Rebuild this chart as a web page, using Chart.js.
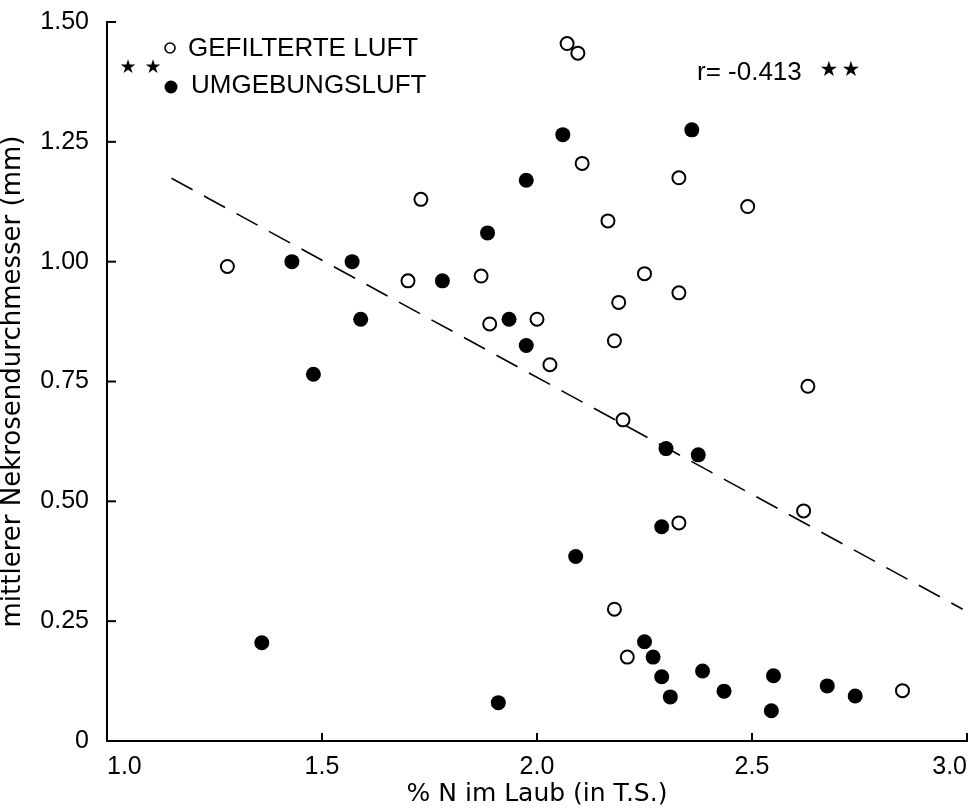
<!DOCTYPE html>
<html><head><meta charset="utf-8">
<script src="https://cdn.jsdelivr.net/npm/chart.js@4"></script>
<style>html,body{margin:0;padding:0;background:#fff}#wrap{width:976px;height:811px}</style>
</head><body><div id="wrap"><canvas id="c" width="976" height="811"></canvas></div>
<script>
// ---- data ----
const seriesNames = ["GEFILTERTE LUFT", "UMGEBUNGSLUFT"];
const filteredX = [1.28, 1.73, 1.70, 1.87, 1.89, 2.00, 2.03, 2.07, 2.095, 2.105, 2.165, 2.25, 2.19, 2.18, 2.33, 2.33, 2.49, 2.63, 2.20, 2.33, 2.62, 2.18, 2.21, 2.85];
const filteredY = [0.99, 1.13, 0.96, 0.97, 0.87, 0.88, 0.785, 1.455, 1.435, 1.205, 1.085, 0.975, 0.915, 0.835, 1.175, 0.935, 1.115, 0.74, 0.67, 0.455, 0.48, 0.275, 0.175, 0.105];
const ambientX = [1.36, 1.43, 1.48, 1.57, 1.59, 1.78, 1.885, 1.935, 1.975, 1.975, 2.06, 2.09, 1.91, 2.36, 2.30, 2.375, 2.29, 2.25, 2.27, 2.29, 2.31, 2.385, 2.435, 2.55, 2.545, 2.675, 2.74];
const ambientY = [0.205, 1.00, 0.765, 1.00, 0.88, 0.96, 1.06, 0.88, 1.17, 0.825, 1.265, 0.385, 0.08, 1.275, 0.61, 0.597, 0.447, 0.207, 0.175, 0.134, 0.092, 0.146, 0.104, 0.136, 0.063, 0.115, 0.094];
const trendX = [1.15, 2.99];
const trendY = [1.174, 0.275];
const xTickLabels = ["1.0", "1.5", "2.0", "2.5", "3.0"];
const yTickLabels = ["0", "0.25", "0.50", "0.75", "1.00", "1.25", "1.50"];
const xTitle = "% N im Laub (in T.S.)";
const yTitle = "mittlerer Nekrosendurchmesser (mm)";
const corrText = "r= -0.413";
const starText = "\u2605";

const FONT = "'Liberation Sans', Arial, sans-serif";
const TFONT = "'DejaVu Sans', 'Liberation Sans', sans-serif";
const toPts = (xs, ys) => xs.map((x, i) => ({x: x, y: ys[i]}));

const decor = {
  id: 'decor',
  afterDraw(chart) {
    const {ctx, chartArea: a, scales: {x, y}} = chart;
    ctx.save();
    ctx.strokeStyle = '#000';
    ctx.lineWidth = 2;
    // inward tick marks
    x.ticks.forEach(t => {
      if (t.value === x.min) return;
      const px = x.getPixelForValue(t.value);
      ctx.beginPath(); ctx.moveTo(px, a.bottom); ctx.lineTo(px, a.bottom - 8); ctx.stroke();
    });
    y.ticks.forEach(t => {
      if (t.value === y.min) return;
      const py = y.getPixelForValue(t.value);
      ctx.beginPath(); ctx.moveTo(a.left, py); ctx.lineTo(a.left + 9, py); ctx.stroke();
    });
    // legend
    const lx = a.left + 63;
    ctx.fillStyle = '#000';
    ctx.lineWidth = 1.6;
    ctx.beginPath(); ctx.arc(lx, a.top + 26, 5, 0, Math.PI * 2); ctx.stroke();
    ctx.beginPath(); ctx.arc(lx + 1, a.top + 65, 6.5, 0, Math.PI * 2); ctx.fill();
    ctx.font = "26px " + FONT;
    ctx.textAlign = 'left';
    ctx.textBaseline = 'middle';
    ctx.fillText(seriesNames[0], lx + 18, a.top + 27);
    ctx.fillText(seriesNames[1], lx + 21, a.top + 64);
    // stars next to legend
    ctx.font = "19px 'DejaVu Sans', sans-serif";
    ctx.textAlign = 'center';
    ctx.fillText(starText, a.left + 21, a.top + 46);
    ctx.fillText(starText, a.left + 46, a.top + 46);
    // correlation text
    ctx.font = "26px " + FONT;
    ctx.textAlign = 'left';
    ctx.fillText(corrText, a.left + 590, a.top + 51);
    ctx.font = "21px 'DejaVu Sans', sans-serif";
    ctx.textAlign = 'center';
    ctx.fillText(starText, a.left + 722, a.top + 49);
    ctx.fillText(starText, a.left + 744, a.top + 49);
    ctx.restore();
  }
};

new Chart(document.getElementById('c'), {
  type: 'scatter',
  data: {
    datasets: [
      {
        label: 'Trend',
        type: 'line',
        data: toPts(trendX, trendY),
        borderColor: '#000',
        borderWidth: 1.6,
        borderDash: [24, 13],
        pointRadius: 0,
        fill: false,
        showLine: true,
        order: 3
      },
      {
        label: seriesNames[0],
        data: toPts(filteredX, filteredY),
        pointStyle: 'circle',
        pointRadius: 6.5,
        pointBorderWidth: 2,
        pointBackgroundColor: '#fff',
        pointBorderColor: '#000',
        order: 2
      },
      {
        label: seriesNames[1],
        data: toPts(ambientX, ambientY),
        pointStyle: 'circle',
        pointRadius: 7.5,
        pointBorderWidth: 0,
        pointBackgroundColor: '#000',
        pointBorderColor: '#000',
        order: 1
      }
    ]
  },
  options: {
    responsive: false,
    devicePixelRatio: 1,
    animation: false,
    events: [],
    layout: {padding: {left: 0, right: 9, top: 22, bottom: 0}},
    plugins: {legend: {display: false}, tooltip: {enabled: false}},
    scales: {
      x: {
        type: 'linear',
        min: 1, max: 3,
        afterFit: s => { s.height = 70; s.paddingLeft = 0; s.paddingRight = 0; },
        grid: {display: false, drawTicks: false},
        border: {display: true, color: '#000', width: 2},
        ticks: {
          stepSize: 0.5,
          align: 'inner',
          padding: 11,
          color: '#000',
          font: {family: FONT, size: 25},
          callback: (v, i) => xTickLabels[i]
        },
        title: {
          display: true,
          text: xTitle,
          color: '#000',
          font: {family: TFONT, size: 25, lineHeight: 1.2},
          padding: {top: 0, bottom: 2}
        }
      },
      y: {
        type: 'linear',
        min: 0, max: 1.5,
        afterFit: s => { s.width = 107; s.paddingTop = 0; s.paddingBottom = 0; },
        grid: {display: false, drawTicks: false},
        border: {display: true, color: '#000', width: 2},
        ticks: {
          stepSize: 0.25,
          padding: 18,
          color: '#000',
          font: {family: FONT, size: 25},
          callback: (v, i) => yTickLabels[i]
        },
        title: {
          display: true,
          text: yTitle,
          color: '#000',
          font: {family: TFONT, size: 26, lineHeight: 1.0},
          padding: {top: 0, bottom: 0}
        }
      }
    }
  },
  plugins: [decor]
});
</script>
</body></html>
